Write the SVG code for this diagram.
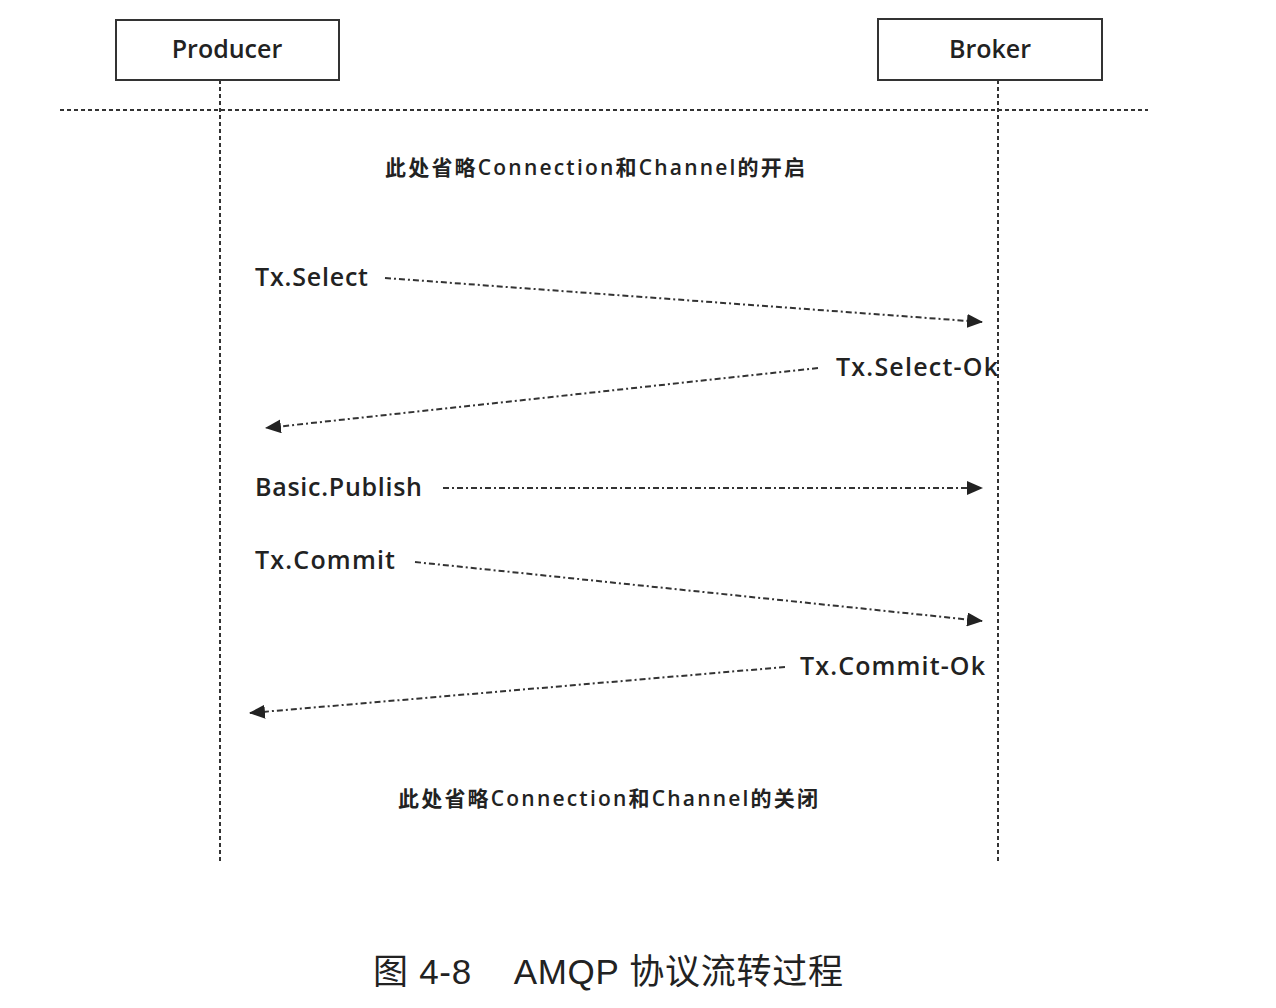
<svg xmlns="http://www.w3.org/2000/svg" width="1276" height="1008" viewBox="0 0 1276 1008">
<defs>
<marker id="ah" markerWidth="16" markerHeight="14" refX="15" refY="7" orient="auto" markerUnits="userSpaceOnUse" viewBox="0 0 16 14"><path d="M0,0 L16,7 L0,14 z" fill="#222"/></marker>
<style>
.box{fill:#fff;stroke:#333;stroke-width:2}
.life{stroke:#333;stroke-width:2;stroke-dasharray:4,3;fill:none}
.msg{stroke:#333;stroke-width:2;stroke-dasharray:6,3,2,3;fill:none;marker-end:url(#ah)}
.t{font-family:"Open Sans","Noto Sans CJK SC",sans-serif;font-size:25px;fill:#222;font-weight:600}
.n{font-family:"Open Sans","Noto Sans CJK SC",sans-serif;font-size:21px;fill:#222;font-weight:600}
.c{font-family:"Liberation Sans","Noto Sans CJK SC",sans-serif;font-size:35px;fill:#222}
</style>
</defs>
<rect width="1276" height="1008" fill="#fff"/>
<g id="producer"><rect class="box" x="116" y="20" width="223" height="60"/><text class="t" x="227" y="58" text-anchor="middle" font-weight="400">Producer</text></g>
<g id="broker"><rect class="box" x="878" y="19" width="224" height="61"/><text class="t" x="990" y="58" text-anchor="middle" font-weight="400">Broker</text></g>
<g id="connectors">
<line class="life" x1="220" y1="80" x2="220" y2="862"/>
<line class="life" x1="998" y1="80" x2="998" y2="862"/>
<line class="life" x1="60" y1="110" x2="1148" y2="110"/>
<line class="msg" x1="385" y1="278" x2="982" y2="322"/>
<line class="msg" x1="818" y1="368" x2="266" y2="428"/>
<line class="msg" x1="443" y1="488" x2="982" y2="488"/>
<line class="msg" x1="415" y1="562" x2="982" y2="621"/>
<line class="msg" x1="785" y1="667" x2="250" y2="713"/>
</g>
<g id="labels">
<text class="n" x="595" y="175" text-anchor="middle" textLength="420">此处省略Connection和Channel的开启</text>
<text class="t" x="255" y="286" textLength="113">Tx.Select</text>
<text class="t" x="998" y="376" text-anchor="end" textLength="162">Tx.Select-Ok</text>
<text class="t" x="255" y="496" textLength="167">Basic.Publish</text>
<text class="t" x="255" y="569" textLength="140">Tx.Commit</text>
<text class="t" x="985" y="675" text-anchor="end" textLength="185">Tx.Commit-Ok</text>
<text class="n" x="608" y="806" text-anchor="middle" textLength="420">此处省略Connection和Channel的关闭</text>
<text class="c" x="373" y="984" xml:space="preserve" textLength="470">图 4-8    AMQP 协议流转过程</text>
</g>
</svg>
